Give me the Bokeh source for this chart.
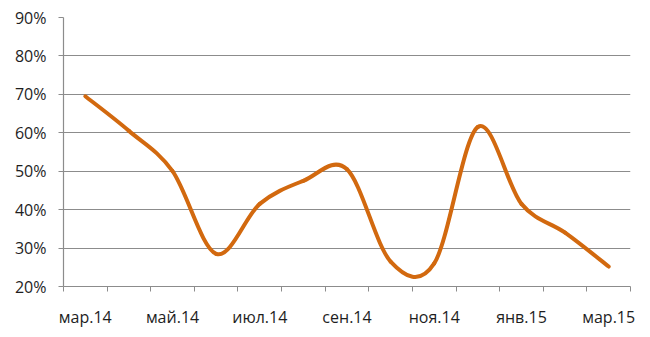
from bokeh.plotting import figure
from bokeh.models import Range1d, FixedTicker
from bokeh.embed import file_html
from bokeh.resources import INLINE

months = ["мар.14", "апр.14", "май.14", "июн.14", "июл.14", "авг.14", "сен.14",
          "окт.14", "ноя.14", "дек.14", "янв.15", "фев.15", "мар.15"]
values = [69.5, 60.5, 50.0, 28.5, 41.5, 47.5, 50.5, 26.5, 26.0, 61.5, 41.5, 34.0, 25.2]
y_ticks = [20, 30, 40, 50, 60, 70, 80, 90]

LINE = "#D2690F"
GRID = "#8C8C8C"
FONT = "Open Sans"

xs = list(range(len(months)))
ys = [v / 100 for v in values]

p = figure(width=650, height=337, output_backend="svg", toolbar_location=None,
           x_range=Range1d(-0.5, len(months) - 0.5), y_range=Range1d(0.2, 0.9),
           min_border_left=63, min_border_right=20, min_border_top=17, min_border_bottom=51)
p.outline_line_color = None
p.background_fill_color = "white"
p.border_fill_color = "white"

# smooth (Catmull-Rom -> Bezier) segments built from the data points
n = len(xs)
x0, y0, x1, y1, cx0, cy0, cx1, cy1 = [], [], [], [], [], [], [], []
for i in range(n - 1):
    ip = max(i - 1, 0)
    inn = min(i + 2, n - 1)
    x0.append(xs[i]); y0.append(ys[i])
    x1.append(xs[i + 1]); y1.append(ys[i + 1])
    cx0.append(xs[i] + (xs[i + 1] - xs[ip]) / 6)
    cy0.append(ys[i] + (ys[i + 1] - ys[ip]) / 6)
    cx1.append(xs[i + 1] - (xs[inn] - xs[i]) / 6)
    cy1.append(ys[i + 1] - (ys[inn] - ys[i]) / 6)

p.bezier(x0=x0, y0=y0, x1=x1, y1=y1, cx0=cx0, cy0=cy0, cx1=cx1, cy1=cy1,
         line_color=LINE, line_width=4, line_cap="round")

# x axis
label_idx = list(range(0, n, 2))
p.xaxis.ticker = FixedTicker(ticks=label_idx,
                             minor_ticks=[i - 0.5 for i in range(n + 1)])
p.xaxis.major_label_overrides = {i: months[i] for i in label_idx}
p.xaxis.major_tick_out = 0
p.xaxis.major_tick_in = 0
p.xaxis.minor_tick_out = 5
p.xaxis.minor_tick_in = 0
p.xaxis.minor_tick_line_color = GRID
p.xaxis.axis_line_color = GRID
p.xaxis.major_label_standoff = 14

# y axis
p.yaxis.ticker = FixedTicker(ticks=[t / 100 for t in y_ticks], minor_ticks=[])
p.yaxis.major_label_overrides = {t / 100: f"{t}%" for t in y_ticks}
p.yaxis.major_tick_out = 5
p.yaxis.major_tick_in = 0
p.yaxis.major_tick_line_color = GRID
p.yaxis.axis_line_color = GRID
p.yaxis.major_label_standoff = 12

for ax in (p.xaxis, p.yaxis):
    ax.major_label_text_font = FONT
    ax.major_label_text_font_size = "16px"
    ax.major_label_text_color = "#1E1E1E"
    ax.axis_line_width = 1.2

p.xgrid.grid_line_color = None
p.ygrid.grid_line_color = GRID
p.ygrid.grid_line_width = 1.2
p.ygrid.ticker = FixedTicker(ticks=[t / 100 for t in y_ticks[1:]])

open("out.html", "w").write(file_html(p, INLINE))
